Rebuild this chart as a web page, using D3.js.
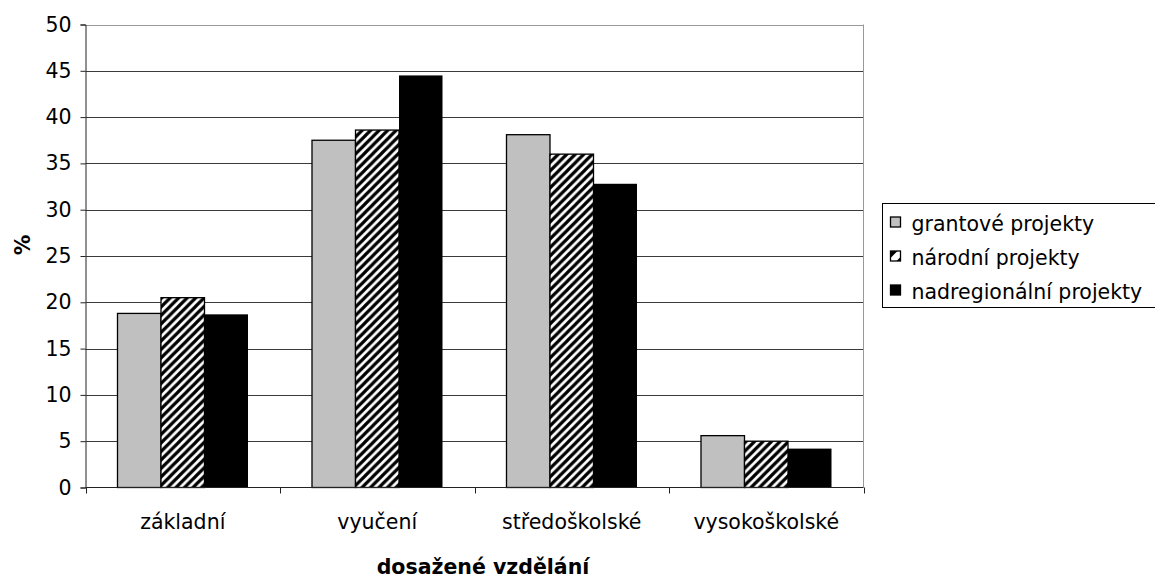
<!DOCTYPE html>
<html>
<head>
<meta charset="utf-8">
<script src="https://cdn.jsdelivr.net/npm/d3@7"></script>
<style>
  html, body { margin: 0; padding: 0; background: #fff; }
  svg { display: block; font-family: "DejaVu Sans", Verdana, sans-serif; }
</style>
</head>
<body>
<svg id="chart" width="1155" height="578"></svg>
<script>
// Education level categories (x axis)
const categories = ["základní", "vyučení", "středoškolské", "vysokoškolské"];
// Series names
const seriesNames = ["grantové projekty", "národní projekty", "nadregionální projekty"];
// Percentages per series, in category order
const grantove = [18.8, 37.5, 38.1, 5.6];
const narodni = [20.5, 38.6, 36.0, 5.0];
const nadregionalni = [18.7, 44.5, 32.8, 4.2];
const seriesValues = [grantove, narodni, nadregionalni];
// Y axis ticks
const yTicks = [0, 5, 10, 15, 20, 25, 30, 35, 40, 45, 50];

const FS = 20.5;
const svg = d3.select("#chart");
const margin = { left: 85.5, right: 863.5, top: 24.5, bottom: 487.5 };

// Hatch pattern for the second series
const defs = svg.append("defs");
const pat = defs.append("pattern")
  .attr("id", "hatch")
  .attr("patternUnits", "userSpaceOnUse")
  .attr("width", 8.5).attr("height", 8.5);
pat.append("rect").attr("width", 8.5).attr("height", 8.5).attr("fill", "#fff");
pat.append("path")
  .attr("d", "M-2.125,2.125 L2.125,-2.125 M0,8.5 L8.5,0 M6.375,10.625 L10.625,6.375")
  .attr("stroke", "#000").attr("stroke-width", 3.2);

const fills = ["#c0c0c0", "url(#hatch)", "#000"];

const x = d3.scaleBand().domain(categories).range([margin.left, margin.right]);
// Three bars per group, filling the middle two thirds of each band
const inner = d3.scaleBand().domain(d3.range(seriesNames.length))
  .range([x.bandwidth() * 0.1645, x.bandwidth() * 0.8355]);
const y = d3.scaleLinear().domain([0, 50]).range([margin.bottom, margin.top]);

// Gridlines
svg.append("g").selectAll("line").data(yTicks.filter(d => d > 0)).join("line")
  .attr("x1", margin.left).attr("x2", margin.right)
  .attr("y1", d => Math.round(y(d)) + 0.5).attr("y2", d => Math.round(y(d)) + 0.5)
  .attr("stroke", d => d === 50 ? "#999" : "#3a3a3a").attr("stroke-width", 1);

// Right plot border
svg.append("line")
  .attr("x1", margin.right).attr("x2", margin.right)
  .attr("y1", margin.top).attr("y2", margin.bottom)
  .attr("stroke", "#999");

// Bars
const groups = svg.append("g").selectAll("g").data(categories).join("g")
  .attr("transform", d => `translate(${x(d)},0)`);
groups.selectAll("rect")
  .data((c, ci) => seriesValues.map((vals, si) => ({ si, v: vals[ci] })))
  .join("rect")
  .attr("x", d => inner(d.si))
  .attr("width", inner.bandwidth())
  .attr("y", d => y(d.v))
  .attr("height", d => y(0) - y(d.v))
  .attr("fill", d => fills[d.si])
  .attr("stroke", d => d.si === 2 ? "none" : "#000")
  .attr("stroke-width", 1.3);

// Y axis
const yAxis = d3.axisLeft(y).tickValues(yTicks).tickSize(5).tickPadding(9);
const gy = svg.append("g").attr("transform", `translate(${margin.left},0)`).call(yAxis);
gy.select(".domain").attr("stroke", "#222");
gy.selectAll(".tick line").attr("stroke", "#222");
gy.selectAll(".tick text").attr("font-size", FS).attr("fill", "#000")
  .attr("font-family", "DejaVu Sans, Verdana, sans-serif");

// X axis
const gx = svg.append("g").attr("transform", `translate(0,${margin.bottom})`);
gx.append("line").attr("x1", margin.left).attr("x2", margin.right).attr("stroke", "#222");
const boundaries = categories.map(c => x(c)).concat([margin.right]);
gx.selectAll("line.tk").data(boundaries).join("line").attr("class", "tk")
  .attr("x1", d => Math.round(d) + 0.5).attr("x2", d => Math.round(d) + 0.5)
  .attr("y1", 0).attr("y2", 6).attr("stroke", "#222");
gx.selectAll("text").data(categories).join("text")
  .attr("x", d => x(d) + x.bandwidth() / 2)
  .attr("y", 41.5)
  .attr("text-anchor", "middle")
  .attr("font-size", FS)
  .text(d => d);

// Axis titles
svg.append("text")
  .attr("x", 483).attr("y", 574)
  .attr("text-anchor", "middle").attr("font-weight", "bold").attr("font-size", FS)
  .text("dosažené vzdělání");
svg.append("text")
  .attr("transform", "translate(30,245) rotate(-90)")
  .attr("text-anchor", "middle").attr("font-weight", "bold").attr("font-size", FS)
  .text("%");

// Legend
const legend = svg.append("g").attr("transform", "translate(882.5,203.5)");
legend.append("rect").attr("width", 280).attr("height", 104)
  .attr("fill", "#fff").attr("stroke", "#000").attr("stroke-width", 1);
const li = legend.selectAll("g").data(seriesNames).join("g")
  .attr("transform", (d, i) => `translate(8,${13.5 + i * 34})`);
li.append("rect").attr("width", 10).attr("height", 10)
  .attr("fill", (d, i) => i === 0 ? "#c0c0c0" : i === 2 ? "#000" : "#fff")
  .attr("stroke", "#000").attr("stroke-width", 1.3);
// Miniature hatch for the second swatch
li.filter((d, i) => i === 1).append("path")
  .attr("d", "M0,0 L7,0 L0,7 Z M10,6 L10,10 L6,10 Z").attr("fill", "#000");
li.append("text").attr("x", 21).attr("y", 13.5).attr("font-size", FS).text(d => d);
</script>
</body>
</html>
